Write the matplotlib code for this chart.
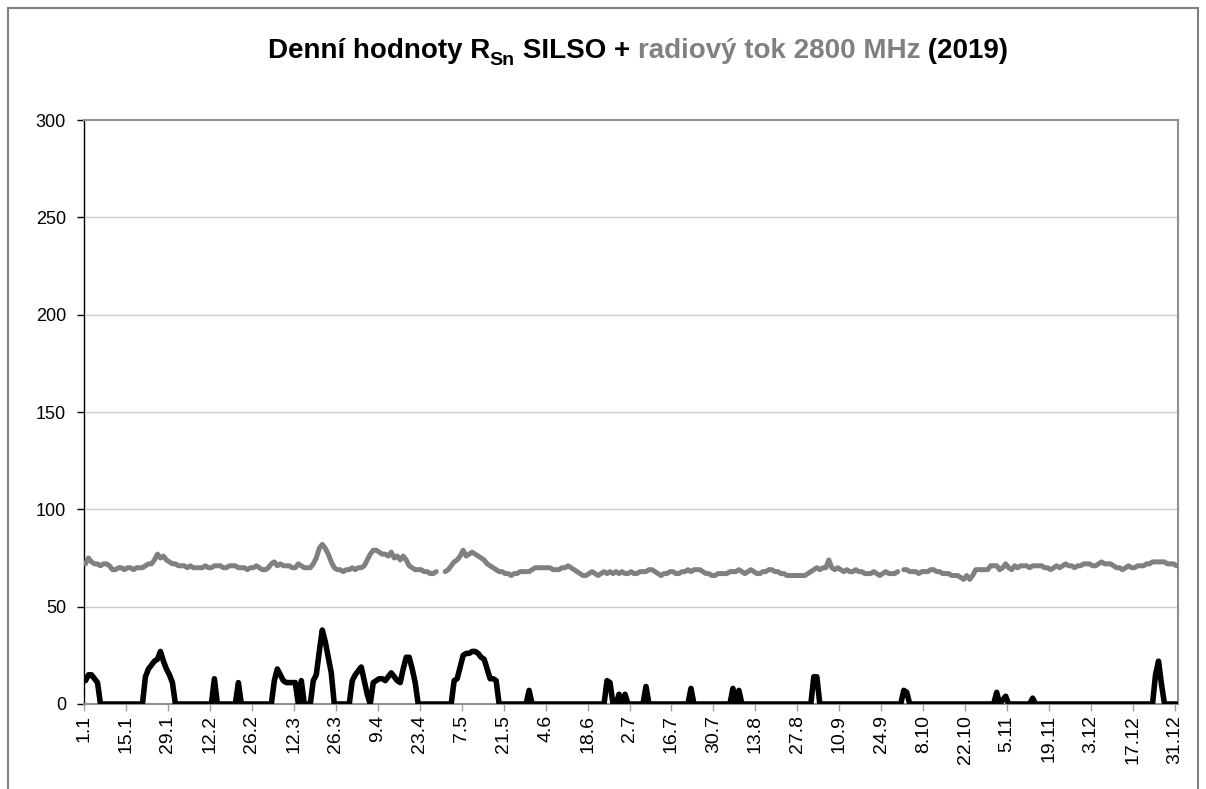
# denní relativní číslo slunečních skvrn (SILSO) + radiový tok 10,7 cm, rok 2019
import numpy as np
import matplotlib
matplotlib.use('Agg')
import matplotlib.pyplot as plt
from matplotlib.patches import Rectangle

plt.rcParams['font.family'] = ['Liberation Sans', 'DejaVu Sans']

# denní hodnoty R_Sn, po čtrnácti dnech na řádek (od 1.1.)
sn = [
    12, 15, 15, 13, 11, 0, 0, 0, 0, 0, 0, 0, 0, 0,
    0, 0, 0, 0, 0, 0, 14, 18, 20, 22, 23, 27, 22, 18,
    15, 11, 0, 0, 0, 0, 0, 0, 0, 0, 0, 0, 0, 0,
    0, 13, 0, 0, 0, 0, 0, 0, 0, 11, 0, 0, 0, 0,
    0, 0, 0, 0, 0, 0, 0, 12, 18, 15, 12, 11, 11, 11,
    11, 0, 12, 0, 0, 0, 12, 15, 27, 38, 32, 24, 16, 0,
    0, 0, 0, 0, 0, 12, 15, 17, 19, 12, 5, 0, 11, 12,
    13, 13, 12, 14, 16, 14, 12, 11, 18, 24, 24, 18, 11, 0,
    0, 0, 0, 0, 0, 0, 0, 0, 0, 0, 0, 12, 13, 19,
    25, 26, 26, 27, 27, 26, 24, 23, 18, 13, 13, 12, 0, 0,
    0, 0, 0, 0, 0, 0, 0, 0, 7, 0, 0, 0, 0, 0,
    0, 0, 0, 0, 0, 0, 0, 0, 0, 0, 0, 0, 0, 0,
    0, 0, 0, 0, 0, 0, 12, 11, 0, 0, 5, 0, 5, 0,
    0, 0, 0, 0, 0, 9, 0, 0, 0, 0, 0, 0, 0, 0,
    0, 0, 0, 0, 0, 0, 8, 0, 0, 0, 0, 0, 0, 0,
    0, 0, 0, 0, 0, 0, 8, 0, 7, 0, 0, 0, 0, 0,
    0, 0, 0, 0, 0, 0, 0, 0, 0, 0, 0, 0, 0, 0,
    0, 0, 0, 0, 0, 14, 14, 0, 0, 0, 0, 0, 0, 0,
    0, 0, 0, 0, 0, 0, 0, 0, 0, 0, 0, 0, 0, 0,
    0, 0, 0, 0, 0, 0, 0, 7, 6, 0, 0, 0, 0, 0,
    0, 0, 0, 0, 0, 0, 0, 0, 0, 0, 0, 0, 0, 0,
    0, 0, 0, 0, 0, 0, 0, 0, 0, 0, 6, 0, 2, 4,
    0, 0, 0, 0, 0, 0, 0, 0, 3, 0, 0, 0, 0, 0,
    0, 0, 0, 0, 0, 0, 0, 0, 0, 0, 0, 0, 0, 0,
    0, 0, 0, 0, 0, 0, 0, 0, 0, 0, 0, 0, 0, 0,
    0, 0, 0, 0, 0, 0, 0, 15, 22, 10, 0, 0, 0, 0,
    0,
]

# radiový tok 2800 MHz (None = chybí měření)
flux = [
    72, 75, 73, 72, 72, 71, 72, 72, 71, 69, 69, 70, 70, 69,
    70, 70, 69, 70, 70, 70, 71, 72, 72, 74, 77, 75, 76, 74,
    73, 72, 72, 71, 71, 71, 70, 71, 70, 70, 70, 70, 71, 70,
    70, 71, 71, 71, 70, 70, 71, 71, 71, 70, 70, 70, 69, 70,
    70, 71, 70, 69, 69, 70, 72, 73, 71, 72, 71, 71, 71, 70,
    70, 72, 71, 70, 70, 70, 72, 75, 80, 82, 80, 77, 73, 70,
    69, 69, 68, 69, 69, 70, 69, 70, 70, 71, 74, 77, 79, 79,
    78, 77, 77, 76, 78, 75, 76, 74, 76, 74, 71, 70, 69, 69,
    69, 68, 68, 67, 67, 68, None, None, 68, 69, 71, 73, 74, 76,
    79, 76, 77, 78, 77, 76, 75, 74, 72, 71, 70, 69, 68, 68,
    67, 67, 66, 67, 67, 68, 68, 68, 68, 69, 70, 70, 70, 70,
    70, 70, 69, 69, 69, 70, 70, 71, 70, 69, 68, 67, 66, 66,
    67, 68, 67, 66, 67, 68, 67, 68, 67, 68, 67, 68, 67, 67,
    68, 67, 67, 68, 68, 68, 69, 69, 68, 67, 66, 67, 67, 68,
    68, 67, 67, 68, 68, 69, 68, 69, 69, 69, 68, 67, 67, 66,
    66, 67, 67, 67, 67, 68, 68, 68, 69, 68, 67, 68, 69, 68,
    67, 67, 68, 68, 69, 69, 68, 68, 67, 67, 66, 66, 66, 66,
    66, 66, 66, 67, 68, 69, 70, 69, 70, 70, 74, 70, 69, 70,
    69, 68, 69, 68, 68, 69, 68, 68, 67, 67, 67, 68, 67, 66,
    67, 68, 67, 67, 67, 68, None, 69, 69, 68, 68, 68, 67, 68,
    68, 68, 69, 69, 68, 68, 67, 67, 67, 66, 66, 66, 65, 64,
    66, 64, 66, 69, 69, 69, 69, 69, 71, 71, 71, 69, 70, 72,
    70, 69, 71, 70, 71, 71, 71, 70, 71, 71, 71, 71, 70, 70,
    69, 70, 71, 70, 71, 72, 71, 71, 70, 71, 71, 72, 72, 72,
    71, 71, 72, 73, 72, 72, 72, 71, 70, 70, 69, 70, 71, 70,
    70, 71, 71, 71, 72, 72, 73, 73, 73, 73, 73, 72, 72, 72,
    71,
]

date_labels = ['1.1', '15.1', '29.1', '12.2', '26.2', '12.3', '26.3', '9.4', '23.4',
               '7.5', '21.5', '4.6', '18.6', '2.7', '16.7', '30.7', '13.8', '27.8',
               '10.9', '24.9', '8.10', '22.10', '5.11', '19.11', '3.12', '17.12', '31.12']

sn = np.array(sn, dtype=float)
flux = np.array([np.nan if v is None else v for v in flux], dtype=float)
days = np.arange(len(sn))

W, H = 1206, 789
fig = plt.figure(figsize=(W / 100, H / 100), dpi=100)
ax = fig.add_axes([84 / W, 1 - 704 / H, 1094 / W, 584 / H])

ax.plot(days, flux, c='#808080', lw=3.6, solid_joinstyle='round', solid_capstyle='round', zorder=3)
ax.plot(days, sn, c='black', lw=4.0, solid_joinstyle='round', solid_capstyle='round', zorder=4)

ax.set_xlim(-0.5, len(days) - 0.5)
ax.set_ylim(0, 300)
ax.set_yticks(np.arange(0, 301, 50))
ax.set_xticks(np.arange(0, len(days), 14) - 0.5)
ax.set_xticklabels(date_labels, rotation=90, va='top', ha='center')

ax.tick_params(axis='y', direction='out', length=5, width=1, color='black', labelsize=13, pad=8)
ax.tick_params(axis='x', direction='out', length=5, width=1, color='#a0a0a0', labelsize=14, pad=3)

for y in range(50, 300, 50):
    ax.axhline(y, c='#cccccc', lw=1, zorder=1)

ax.spines['left'].set_color('black')
ax.spines['left'].set_linewidth(1)
for s in ['top', 'right', 'bottom']:
    ax.spines[s].set_color('#909090')
    ax.spines[s].set_linewidth(1.5)

# rámeček grafu
fig.patches.append(Rectangle((8 / W, -0.1), (1198 - 8) / W, 1.1 - 8 / H, transform=fig.transFigure,
                             fill=False, edgecolor='#808080', lw=1.5))

# nadpis poskládaný z kousků (dolní index, šedá část)
pieces = [('Denní hodnoty R', 'black', 20, 0),
          ('Sn', 'black', 14, -7),
          (' SILSO + ', 'black', 20, 0),
          ('radiový tok 2800 MHz', '#808080', 20, 0),
          (' (2019)', 'black', 20, 0)]
base_y = 58
texts = []
for txt, col, size, dy in pieces:
    t = fig.text(0, 1 - (base_y - dy) / H, txt, color=col, fontsize=size, fontweight='bold',
                 ha='left', va='baseline')
    texts.append(t)
fig.canvas.draw()
r = fig.canvas.get_renderer()
widths = [t.get_window_extent(r).width for t in texts]
x = 638 - sum(widths) / 2
for t, w in zip(texts, widths):
    t.set_x(x / W)
    x += w

fig.savefig('out.png', dpi=100)
